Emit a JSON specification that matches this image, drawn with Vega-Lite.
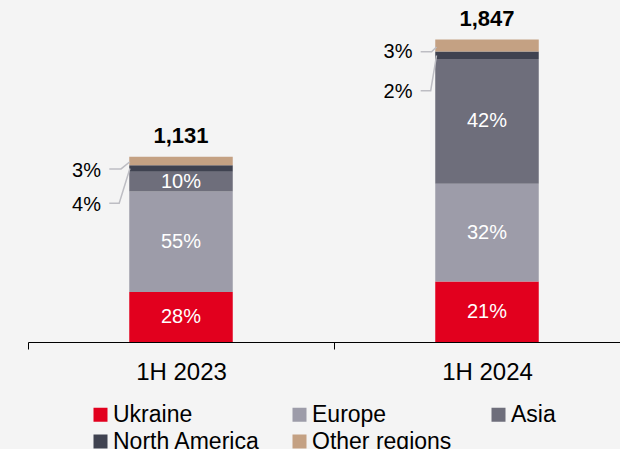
{
  "$schema": "https://vega.github.io/schema/vega-lite/v6.json",
  "width": 592,
  "height": 342,
  "autosize": {"type": "none"},
  "padding": {"left": 28, "top": 0, "right": 0, "bottom": 107},
  "background": "#F4F4F4",
  "config": {"view": {"stroke": null}, "font": "Liberation Sans"},
  "title": {"text": "US$ mn", "anchor": "start", "frame": "group", "fontSize": 20, "fontWeight": "normal", "color": "#6E6E6E", "baseline": "alphabetic", "offset": -3},
  "datasets": {
    "regions": [
      {"period": "1H 2023", "region": "Ukraine", "order": 1, "value": 305, "pct": "28%"},
      {"period": "1H 2023", "region": "Europe", "order": 2, "value": 615, "pct": "55%"},
      {"period": "1H 2023", "region": "Asia", "order": 3, "value": 120, "pct": "10%"},
      {"period": "1H 2023", "region": "North America", "order": 4, "value": 39, "pct": "4%"},
      {"period": "1H 2023", "region": "Other regions", "order": 5, "value": 52, "pct": "3%"},
      {"period": "1H 2024", "region": "Ukraine", "order": 1, "value": 369, "pct": "21%"},
      {"period": "1H 2024", "region": "Europe", "order": 2, "value": 597, "pct": "32%"},
      {"period": "1H 2024", "region": "Asia", "order": 3, "value": 763, "pct": "42%"},
      {"period": "1H 2024", "region": "North America", "order": 4, "value": 46, "pct": "2%"},
      {"period": "1H 2024", "region": "Other regions", "order": 5, "value": 72, "pct": "3%"}
    ],
    "totals": [
      {"period": "1H 2023", "total": 1131, "label": "1,131"},
      {"period": "1H 2024", "total": 1847, "label": "1,847"}
    ],
    "leaders": [
      {"id": "a", "period": "1H 2023", "seq": 1, "pos": 0.2657, "v": 1057},
      {"id": "a", "period": "1H 2023", "seq": 2, "pos": 0.304, "v": 1057},
      {"id": "a", "period": "1H 2023", "seq": 3, "pos": 0.333, "v": 1101},
      {"id": "b", "period": "1H 2023", "seq": 1, "pos": 0.2657, "v": 847},
      {"id": "b", "period": "1H 2023", "seq": 2, "pos": 0.298, "v": 847},
      {"id": "b", "period": "1H 2023", "seq": 3, "pos": 0.333, "v": 1060},
      {"id": "c", "period": "1H 2024", "seq": 1, "pos": 0.2833, "v": 1773},
      {"id": "c", "period": "1H 2024", "seq": 2, "pos": 0.319, "v": 1773},
      {"id": "c", "period": "1H 2024", "seq": 3, "pos": 0.335, "v": 1802},
      {"id": "d", "period": "1H 2024", "seq": 1, "pos": 0.2833, "v": 1535},
      {"id": "d", "period": "1H 2024", "seq": 2, "pos": 0.316, "v": 1535},
      {"id": "d", "period": "1H 2024", "seq": 3, "pos": 0.335, "v": 1750}
    ],
    "callouts": [
      {"period": "1H 2023", "label": "3%", "pos": 0.2386, "v": 1045},
      {"period": "1H 2023", "label": "4%", "pos": 0.2386, "v": 834},
      {"period": "1H 2024", "label": "3%", "pos": 0.2565, "v": 1770},
      {"period": "1H 2024", "label": "2%", "pos": 0.2565, "v": 1526}
    ]
  },
  "layer": [
    {
      "data": {"name": "regions"},
      "mark": {"type": "bar", "width": 103.5},
      "encoding": {
        "x": {
          "field": "period", "type": "nominal", "title": null,
          "scale": {"range": [0, 612], "paddingInner": 0, "paddingOuter": 0},
          "axis": {"domainColor": "#000000", "domainWidth": 1, "tickColor": "#000000", "tickWidth": 1, "tickSize": 7, "tickBand": "extent", "labelFontSize": 24, "labelColor": "#000000", "labelPadding": 11, "labelAngle": 0, "grid": false}
        },
        "y": {"field": "value", "type": "quantitative", "stack": "zero", "scale": {"domain": [0, 2089], "nice": false}, "axis": null},
        "color": {
          "field": "region", "type": "nominal",
          "scale": {"domain": ["Ukraine", "Europe", "Asia", "North America", "Other regions"], "range": ["#E2001E", "#9D9CA9", "#6E6E7B", "#3F4250", "#C4A183"]},
          "legend": {"orient": "none", "legendX": 61, "legendY": 403, "direction": "horizontal", "columns": 3, "gridAlign": "all", "symbolType": "square", "symbolSize": 196, "symbolStrokeWidth": 0, "labelFontSize": 23, "labelColor": "#000000", "labelOffset": 1, "columnPadding": 28, "rowPadding": 3, "title": null, "labelLimit": 0}
        },
        "order": {"field": "order", "type": "quantitative"}
      }
    },
    {
      "data": {"name": "regions"},
      "transform": [
        {"stack": "value", "groupby": ["period"], "sort": [{"field": "order", "order": "ascending"}], "as": ["v0", "v1"]},
        {"calculate": "(datum.v0 + datum.v1) / 2", "as": "mid"},
        {"filter": "datum.region !== 'North America' && datum.region !== 'Other regions'"}
      ],
      "mark": {"type": "text", "color": "#FFFFFF", "fontSize": 20, "baseline": "middle", "align": "center"},
      "encoding": {
        "x": {"field": "period", "type": "nominal"},
        "y": {"field": "mid", "type": "quantitative"},
        "text": {"field": "pct", "type": "nominal"}
      }
    },
    {
      "data": {"name": "totals"},
      "mark": {"type": "text", "fontSize": 22, "fontWeight": "bold", "color": "#000000", "baseline": "alphabetic", "align": "center", "dy": -13.5},
      "encoding": {
        "x": {"field": "period", "type": "nominal"},
        "y": {"field": "total", "type": "quantitative"},
        "text": {"field": "label", "type": "nominal"}
      }
    },
    {
      "data": {"name": "leaders"},
      "mark": {"type": "line", "color": "#BDBDC3", "strokeWidth": 1.5},
      "encoding": {
        "x": {"field": "period", "type": "nominal"},
        "xOffset": {"field": "pos", "type": "quantitative", "scale": {"domain": [0, 1], "nice": false, "zero": false}},
        "y": {"field": "v", "type": "quantitative"},
        "detail": {"field": "id", "type": "nominal"},
        "order": {"field": "seq", "type": "quantitative"}
      }
    },
    {
      "data": {"name": "callouts"},
      "mark": {"type": "text", "fontSize": 20, "color": "#000000", "align": "right", "baseline": "middle"},
      "encoding": {
        "x": {"field": "period", "type": "nominal"},
        "xOffset": {"field": "pos", "type": "quantitative", "scale": {"domain": [0, 1], "nice": false, "zero": false}},
        "y": {"field": "v", "type": "quantitative"},
        "text": {"field": "label", "type": "nominal"}
      }
    }
  ]
}
